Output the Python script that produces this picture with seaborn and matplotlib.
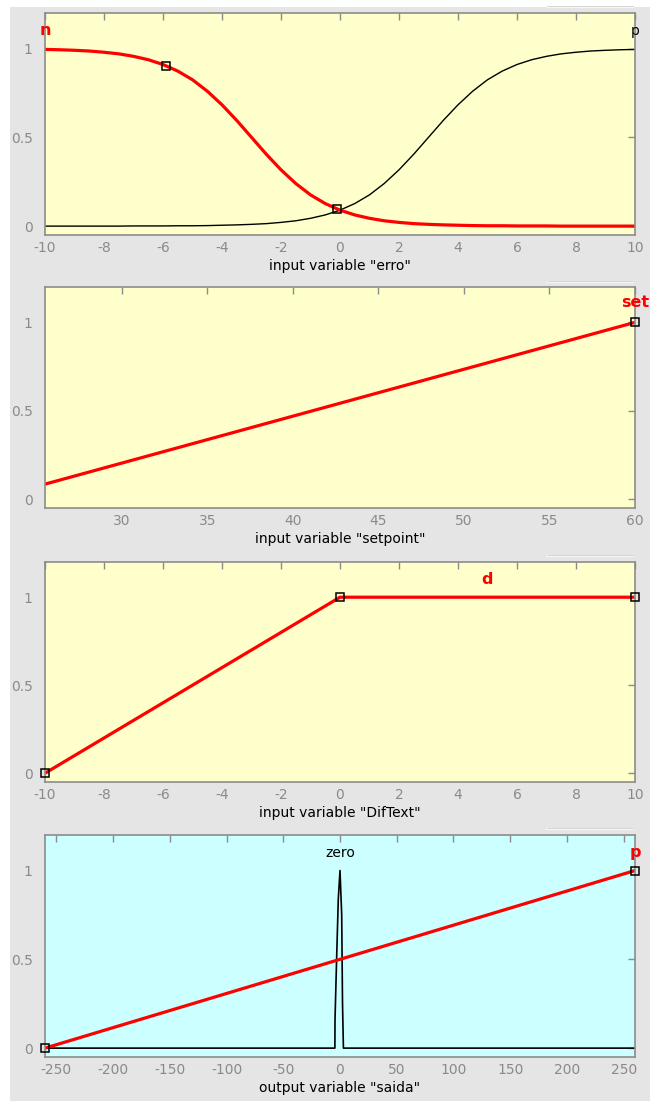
import matplotlib
matplotlib.use("Agg")
import matplotlib.pyplot as plt
from matplotlib.lines import Line2D
from matplotlib.patches import Rectangle
import seaborn as sns

# ---- membership function data ----
# input "erro": sigmoid MFs n and p, sampled every 0.5
erro_x = [-10, -9.5, -9, -8.5, -8, -7.5, -7, -6.5, -6, -5.5, -5, -4.5, -4, -3.5,
          -3, -2.5, -2, -1.5, -1, -0.5, 0, 0.5, 1, 1.5, 2, 2.5, 3, 3.5, 4, 4.5,
          5, 5.5, 6, 6.5, 7, 7.5, 8, 8.5, 9, 9.5, 10]
erro_n = [0.995, 0.993, 0.990, 0.986, 0.979, 0.970, 0.956, 0.937, 0.910, 0.873,
          0.824, 0.760, 0.683, 0.595, 0.500, 0.405, 0.317, 0.240, 0.176, 0.127,
          0.090, 0.063, 0.044, 0.030, 0.021, 0.014, 0.010, 0.007, 0.005, 0.003,
          0.002, 0.002, 0.001, 0.001, 0.001, 0.0, 0.0, 0.0, 0.0, 0.0, 0.0]
erro_p = [0.0, 0.0, 0.0, 0.0, 0.0, 0.0, 0.001, 0.001, 0.001, 0.002,
          0.002, 0.003, 0.005, 0.007, 0.010, 0.014, 0.021, 0.030, 0.044, 0.063,
          0.090, 0.127, 0.176, 0.240, 0.317, 0.405, 0.500, 0.595, 0.683, 0.760,
          0.824, 0.873, 0.910, 0.937, 0.956, 0.970, 0.979, 0.986, 0.990, 0.993, 0.995]
erro_marks_x = [-5.9, -0.1]
erro_marks_y = [0.903, 0.097]

# input "setpoint": rising linear MF "set"
set_x = [25.5, 60]
set_y = [0.085, 1.0]

# input "DifText": MF "d"
dif_x = [-10, 0, 10]
dif_y = [0.0, 1.0, 1.0]

# output "saida": rising MF "p" and narrow MF "zero"
saida_p_x = [-260, 260]
saida_p_y = [0.0, 1.0]
zero_x = [-260, -4.5, -4.4, -3.0, -1.5, 0.0, 1.5, 2.2, 3.0, 260]
zero_y = [0.0, 0.0, 0.16, 0.50, 0.84, 1.0, 0.75, 0.26, 0.0, 0.0]

YTICKS = [0, 0.5, 1]
YTICKLABELS = ["0", "0.5", "1"]

sns.set_style("white")
plt.rcParams["font.family"] = ["DejaVu Sans"]
plt.rcParams["axes.unicode_minus"] = False

YELLOW = "#ffffcc"
CYAN = "#ccffff"
GRAY_TXT = "#8a8a8a"
SPINE = "#8c8c8c"
RED = "#ff0000"

fig = plt.figure(figsize=(6.5, 11.01), dpi=100, facecolor="#e5e5e5")
# white margins along the top and left of the window
fig.patches.append(Rectangle((0, 1 - 7 / 1101), 1, 7 / 1101, transform=fig.transFigure,
                             facecolor="white", edgecolor="none", zorder=-1))
fig.patches.append(Rectangle((0, 0), 10 / 650, 1, transform=fig.transFigure,
                             facecolor="white", edgecolor="none", zorder=-1))

W, H = 650.0, 1101.0
panels_px = [(13, 235), (287, 508), (562, 782), (835, 1057)]


def make_axes(top, bottom, bg):
    ax = fig.add_axes([45 / W, 1 - bottom / H, 590 / W, (bottom - top) / H])
    ax.set_facecolor(bg)
    for s in ax.spines.values():
        s.set_color(SPINE)
        s.set_linewidth(1.2)
    ax.tick_params(direction="in", length=5, width=1, color=SPINE,
                   top=True, right=True, labelcolor=GRAY_TXT, labelsize=10)
    ax.tick_params(axis="x", pad=4)
    ax.tick_params(axis="y", pad=9)
    ax.set_ylim(-0.05, 1.2)
    ax.set_yticks(YTICKS)
    ax.set_yticklabels(YTICKLABELS)
    return ax


def squares(ax, xs, ys):
    ax.plot(xs, ys, linestyle="none", marker="s", markersize=6,
            markerfacecolor="none", markeredgecolor="black",
            markeredgewidth=1.1, clip_on=False, zorder=5)


def label(ax, text):
    ax.set_xlabel(text, fontsize=10, color="black", labelpad=3)


def mf_name(ax, x, y, text, selected):
    if selected:
        ax.text(x, y, text, color=RED, fontweight="bold", fontsize=11.5,
                ha="center", va="center", clip_on=False)
    else:
        ax.text(x, y, text, color="black", fontsize=10,
                ha="center", va="center", clip_on=False)


# ---- panel 1: erro ----
ax1 = make_axes(*panels_px[0], YELLOW)
sns.lineplot(x=erro_x, y=erro_p, ax=ax1, color="black", linewidth=1.0,
             estimator=None, sort=False)
sns.lineplot(x=erro_x, y=erro_n, ax=ax1, color=RED, linewidth=2.3,
             estimator=None, sort=False)
squares(ax1, erro_marks_x, erro_marks_y)
ax1.set_xlim(-10, 10)
ax1.set_xticks([-10, -8, -6, -4, -2, 0, 2, 4, 6, 8, 10])
mf_name(ax1, -10, 1.1, "n", True)
mf_name(ax1, 10, 1.1, "p", False)
label(ax1, 'input variable "erro"')

# ---- panel 2: setpoint ----
ax2 = make_axes(*panels_px[1], YELLOW)
sns.lineplot(x=set_x, y=set_y, ax=ax2, color=RED, linewidth=2.3,
             estimator=None, sort=False)
squares(ax2, [set_x[-1]], [set_y[-1]])
ax2.set_xlim(25.5, 60)
ax2.set_xticks([30, 35, 40, 45, 50, 55, 60])
mf_name(ax2, 60, 1.11, "set", True)
label(ax2, 'input variable "setpoint"')

# ---- panel 3: DifText ----
ax3 = make_axes(*panels_px[2], YELLOW)
sns.lineplot(x=dif_x, y=dif_y, ax=ax3, color=RED, linewidth=2.3,
             estimator=None, sort=False)
squares(ax3, dif_x, dif_y)
ax3.set_xlim(-10, 10)
ax3.set_xticks([-10, -8, -6, -4, -2, 0, 2, 4, 6, 8, 10])
mf_name(ax3, 5, 1.1, "d", True)
label(ax3, 'input variable "DifText"')

# ---- panel 4: saida ----
ax4 = make_axes(*panels_px[3], CYAN)
sns.lineplot(x=zero_x, y=zero_y, ax=ax4, color="black", linewidth=1.2,
             estimator=None, sort=False)
sns.lineplot(x=saida_p_x, y=saida_p_y, ax=ax4, color=RED, linewidth=2.3,
             estimator=None, sort=False)
squares(ax4, saida_p_x, saida_p_y)
ax4.set_xlim(-260, 260)
ax4.set_xticks([-250, -200, -150, -100, -50, 0, 50, 100, 150, 200, 250])
mf_name(ax4, 0, 1.1, "zero", False)
mf_name(ax4, 260, 1.1, "p", True)
label(ax4, 'output variable "saida"')

# thin light strips above the right end of each panel
for y_px in [7, 282, 556, 829]:
    fig.add_artist(Line2D([547 / W, 633 / W], [1 - y_px / H] * 2,
                          transform=fig.transFigure, color="#f6f6f6", lw=1.6))
    fig.add_artist(Line2D([547 / W, 633 / W], [1 - (y_px - 1) / H] * 2,
                          transform=fig.transFigure, color="#c8c8c8", lw=0.5))

fig.savefig("out.png", dpi=100, facecolor=fig.get_facecolor())
